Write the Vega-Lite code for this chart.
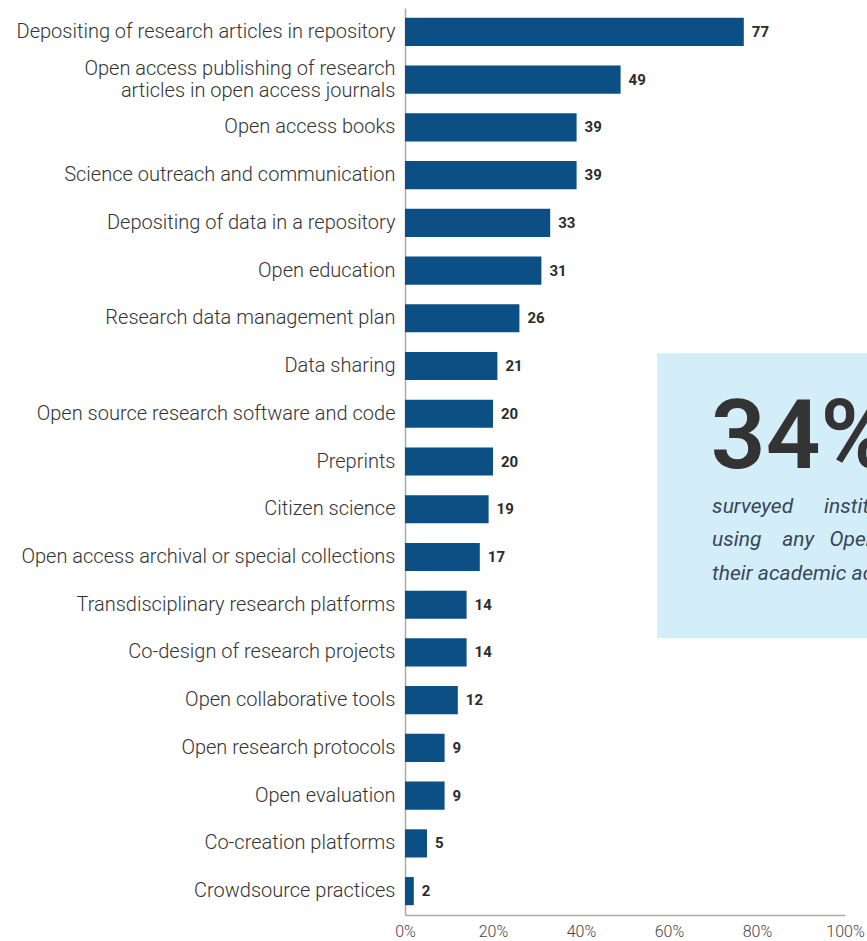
{
  "$schema": "https://vega.github.io/schema/vega-lite/v6.json",
  "autosize": "none",
  "width": 440,
  "height": 907,
  "padding": {"left": 405, "top": 8, "right": 22, "bottom": 26},
  "background": "white",
  "config": {"view": {"stroke": null}, "font": "Roboto"},
  "datasets": {
    "bars": [
      {"practice": "Depositing of research articles in repository", "pct": 77},
      {"practice": "Open access publishing of research|articles in open access journals", "pct": 49},
      {"practice": "Open access books", "pct": 39},
      {"practice": "Science outreach and communication", "pct": 39},
      {"practice": "Depositing of data in a repository", "pct": 33},
      {"practice": "Open education", "pct": 31},
      {"practice": "Research data management plan", "pct": 26},
      {"practice": "Data sharing", "pct": 21},
      {"practice": "Open source research software and code", "pct": 20},
      {"practice": "Preprints", "pct": 20},
      {"practice": "Citizen science", "pct": 19},
      {"practice": "Open access archival or special collections", "pct": 17},
      {"practice": "Transdisciplinary research platforms", "pct": 14},
      {"practice": "Co-design of research projects", "pct": 14},
      {"practice": "Open collaborative tools", "pct": 12},
      {"practice": "Open research protocols", "pct": 9},
      {"practice": "Open evaluation", "pct": 9},
      {"practice": "Co-creation platforms", "pct": 5},
      {"practice": "Crowdsource practices", "pct": 2}
    ],
    "box": [{"x": 57.3, "x2": 120, "row": 7.23, "row2": 13.2}],
    "big": [{"x": 69.5, "row": 9.63, "text": "34%"}],
    "caption": [
      {"x": 69.8, "row": 10.58, "text": "surveyed\u00a0\u00a0\u00a0\u00a0\u00a0\u00a0institutions\u00a0\u00a0\u00a0are\u00a0\u00a0\u00a0not"},
      {"x": 69.8, "row": 11.27, "text": "using\u00a0\u00a0\u00a0\u00a0any\u00a0\u00a0\u00a0Open\u00a0\u00a0\u00a0Science\u00a0\u00a0\u00a0practices"},
      {"x": 69.8, "row": 11.98, "text": "their academic activities"}
    ]
  },
  "layer": [
    {
      "layer": [
        {
          "data": {"name": "box"},
          "mark": {"type": "rect", "color": "#d3eef9"},
          "encoding": {
            "x": {"field": "x", "type": "quantitative", "scale": {"domain": [0, 100], "nice": false, "zero": true}},
            "x2": {"field": "x2"},
            "y": {"field": "row", "type": "quantitative", "scale": {"domain": [0, 19], "reverse": true, "nice": false, "zero": false}, "axis": null},
            "y2": {"field": "row2"}
          }
        },
        {
          "data": {"name": "big"},
          "mark": {"type": "text", "align": "left", "baseline": "alphabetic", "fontSize": 96, "fontWeight": 600, "color": "#333333", "font": "Roboto"},
          "encoding": {
            "x": {"field": "x", "type": "quantitative"},
            "y": {"field": "row", "type": "quantitative", "axis": null},
            "text": {"field": "text"}
          }
        },
        {
          "data": {"name": "caption"},
          "mark": {"type": "text", "align": "left", "baseline": "alphabetic", "fontSize": 21, "fontStyle": "italic", "color": "#3a4656", "font": "Roboto"},
          "encoding": {
            "x": {"field": "x", "type": "quantitative"},
            "y": {"field": "row", "type": "quantitative", "axis": null},
            "text": {"field": "text"}
          }
        }
      ]
    },
    {
      "data": {"name": "bars"},
      "layer": [
        {
          "mark": {"type": "bar", "color": "#0b4f84"},
          "encoding": {
            "y": {
              "field": "practice", "type": "nominal", "sort": null,
              "scale": {"paddingInner": 0.41, "paddingOuter": 0.205},
              "axis": {
                "orient": "left",
                "title": null, "ticks": false, "domainColor": "#aaaaaa", "domainWidth": 1.5,
                "labelFont": "Roboto", "labelFontSize": 20, "labelFontWeight": 300, "labelColor": "#333333",
                "labelPadding": 10, "labelLimit": 420, "labelLineHeight": 22,
                "labelExpr": "split(datum.label, '|')",
                "labelOffset": {"condition": {"test": "indexof(datum.value, '|') >= 0", "value": -11}, "value": 0}
              }
            },
            "x": {
              "field": "pct", "type": "quantitative",
              "scale": {"domain": [0, 100], "nice": false},
              "axis": {
                "title": null, "ticks": false, "grid": false, "values": [0, 20, 40, 60, 80, 100],
                "domainColor": "#aaaaaa", "domainWidth": 1.5,
                "labelFont": "Roboto", "labelFontSize": 16, "labelFontWeight": 300, "labelColor": "#444444",
                "labelPadding": 8, "labelExpr": "datum.value + '%'", "labelFlush": false
              }
            }
          }
        },
        {
          "mark": {"type": "text", "align": "left", "dx": 8, "fontSize": 15, "fontWeight": "bold", "color": "#2b2b2b", "font": "Roboto"},
          "encoding": {
            "y": {"field": "practice", "type": "nominal", "sort": null},
            "x": {"field": "pct", "type": "quantitative"},
            "text": {"field": "pct", "type": "quantitative"}
          }
        }
      ]
    }
  ],
  "resolve": {"scale": {"y": "independent"}, "axis": {"y": "independent"}}
}
